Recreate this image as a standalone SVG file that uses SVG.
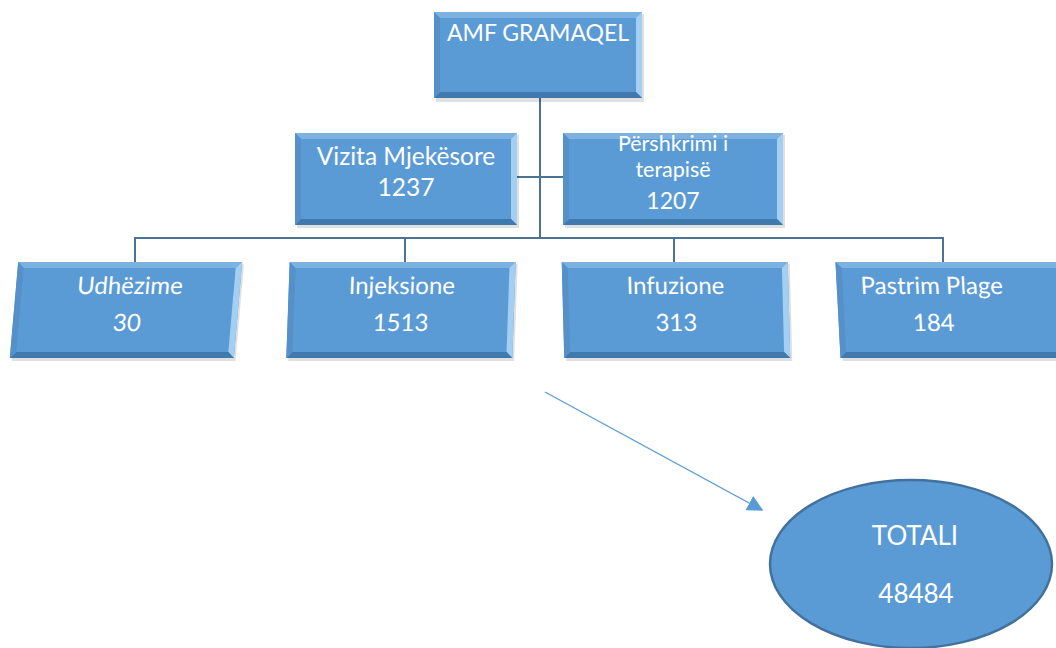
<svg xmlns="http://www.w3.org/2000/svg" width="1056" height="648" viewBox="0 0 1056 648">
<style>
.face{fill:#5b9bd5}
.bt{fill:#7db1e0}
.br{fill:#a3cff3}
.bb{fill:#3f79ad}
.bl{fill:#5590c9}
.sh{fill:#000;opacity:0.12}
.t{font-family:Lato,"Open Sans","Liberation Sans",sans-serif;fill:#ffffff;text-anchor:middle}
.conn{stroke:#4a7396;stroke-width:2;fill:none}
</style>
<defs>
<marker id="ah" viewBox="0 0 10 10" refX="9" refY="5" markerWidth="16" markerHeight="16" markerUnits="userSpaceOnUse" orient="auto">
<path d="M0,0 L10,5 L0,10 Z" fill="#5b9bd5"/>
</marker>
</defs>
<rect width="1056" height="648" fill="#ffffff"/>

<g id="connectors">
<line class="conn" x1="540" y1="98" x2="540" y2="239"/>
<line class="conn" x1="517" y1="177" x2="563" y2="177"/>
<polyline class="conn" points="135,262 135,238 943,238 943,262"/>
<line class="conn" x1="405" y1="238" x2="405" y2="262"/>
<line class="conn" x1="674" y1="238" x2="674" y2="262"/>
<line x1="545" y1="392" x2="762" y2="510" stroke="#5b9bd5" stroke-width="1.3" marker-end="url(#ah)"/>
</g>

<g id="node-amf">
<rect class="sh" x="436" y="14" width="208" height="88"/>
<rect class="face" x="434" y="12" width="208" height="86"/>
<polygon class="bt" points="434,12 642,12 636,18 440,18"/>
<polygon class="br" points="642,12 642,98 636,92 636,18"/>
<polygon class="bb" points="434,98 642,98 636,92 440,92"/>
<polygon class="bl" points="434,12 440,18 440,92 434,98"/>
<text class="t" x="538" y="41" font-size="23">AMF GRAMAQEL</text>
</g>

<g id="node-vizita">
<rect class="sh" x="297" y="135" width="222" height="93"/>
<rect class="face" x="295" y="133" width="222" height="92"/>
<polygon class="bt" points="295,133 517,133 511,139 301,139"/>
<polygon class="br" points="517,133 517,225 511,219 511,139"/>
<polygon class="bb" points="295,225 517,225 511,219 301,219"/>
<polygon class="bl" points="295,133 301,139 301,219 295,225"/>
<text class="t" x="406" y="165" font-size="24.5">Vizita Mjekësore</text>
<text class="t" x="406" y="196" font-size="24.5">1237</text>
</g>

<g id="node-pershkrimi">
<rect class="sh" x="565" y="135" width="220" height="93"/>
<rect class="face" x="563" y="133" width="220" height="92"/>
<polygon class="bt" points="563,133 783,133 777,139 569,139"/>
<polygon class="br" points="783,133 783,225 777,219 777,139"/>
<polygon class="bb" points="563,225 783,225 777,219 569,219"/>
<polygon class="bl" points="563,133 569,139 569,219 563,225"/>
<text class="t" x="673" y="151" font-size="21.5">Përshkrimi i</text>
<text class="t" x="673" y="177" font-size="21.5">terapisë</text>
<text class="t" x="673" y="209" font-size="23">1207</text>
</g>

<g id="node-udhezime" transform="translate(126,310) skewX(-5) translate(-126,-310)">
<rect class="sh" x="16" y="264" width="224" height="97"/>
<rect class="face" x="14" y="262" width="224" height="96"/>
<polygon class="bt" points="14,262 238,262 232,268 20,268"/>
<polygon class="br" points="238,262 238,358 232,352 232,268"/>
<polygon class="bb" points="14,358 238,358 232,352 20,352"/>
<polygon class="bl" points="14,262 20,268 20,352 14,358"/>
<text class="t" x="128" y="294" font-size="24">Udhëzime</text>
<text class="t" x="128" y="331" font-size="24">30</text>
</g>

<g id="node-injeksione" transform="translate(401,310) skewX(-2) translate(-401,-310)">
<rect class="sh" x="290" y="264" width="226" height="97"/>
<rect class="face" x="288" y="262" width="226" height="96"/>
<polygon class="bt" points="288,262 514,262 508,268 294,268"/>
<polygon class="br" points="514,262 514,358 508,352 508,268"/>
<polygon class="bb" points="288,358 514,358 508,352 294,352"/>
<polygon class="bl" points="288,262 294,268 294,352 288,358"/>
<text class="t" x="401" y="294" font-size="24">Injeksione</text>
<text class="t" x="401" y="331" font-size="24">1513</text>
</g>

<g id="node-infuzione" transform="translate(676,310) skewX(1.5) translate(-676,-310)">
<rect class="sh" x="565" y="264" width="226" height="97"/>
<rect class="face" x="563" y="262" width="226" height="96"/>
<polygon class="bt" points="563,262 789,262 783,268 569,268"/>
<polygon class="br" points="789,262 789,358 783,352 783,268"/>
<polygon class="bb" points="563,358 789,358 783,352 569,352"/>
<polygon class="bl" points="563,262 569,268 569,352 563,358"/>
<text class="t" x="676" y="294" font-size="24">Infuzione</text>
<text class="t" x="676" y="331" font-size="24">313</text>
</g>

<g id="node-pastrim" transform="translate(950,310) skewX(3) translate(-950,-310)">
<rect class="sh" x="840" y="264" width="226" height="97"/>
<rect class="face" x="838" y="262" width="226" height="96"/>
<polygon class="bt" points="838,262 1064,262 1058,268 844,268"/>
<polygon class="bb" points="838,358 1064,358 1058,352 844,352"/>
<polygon class="bl" points="838,262 844,268 844,352 838,358"/>
<text class="t" x="933" y="294" font-size="24">Pastrim Plage</text>
<text class="t" x="933" y="331" font-size="24">184</text>
</g>

<g id="node-totali">
<ellipse cx="911" cy="564" rx="141" ry="84" fill="#5b9bd5" stroke="#41719c" stroke-width="2.5"/>
<text class="t" x="915" y="545" font-size="26">TOTALI</text>
<text class="t" x="916" y="603" font-size="26">48484</text>
</g>
</svg>
